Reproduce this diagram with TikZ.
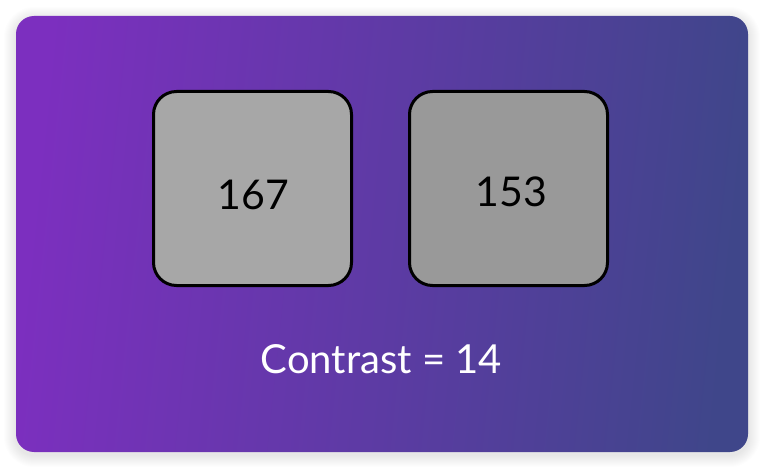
\documentclass[tikz,border=0pt]{standalone}
\usepackage{fontspec}
\setmainfont{Lato}
\definecolor{gradL}{HTML}{7C2FBF}
\definecolor{gradR}{HTML}{3F468A}
\definecolor{boxA}{HTML}{A7A7A7}
\definecolor{boxB}{HTML}{999999}
\tikzset{
  valbox/.style={draw=black, line width=3pt, rounded corners=23pt,
    minimum width=198pt, minimum height=194pt, inner sep=0pt},
  valtext/.style={font=\fontsize{41}{48}\selectfont, text=black, anchor=base, inner sep=0pt},
  captext/.style={font=\fontsize{40}{48}\selectfont, text=white, anchor=base, inner sep=0pt}
}
\begin{document}
\begin{tikzpicture}[x=1pt,y=-1pt]
\useasboundingbox (0,0) rectangle (772,476);
\fill[white] (0,0) rectangle (772,476);
\foreach \i in {1,...,12} {
  \fill[black, opacity=0.008, rounded corners={18pt+\i pt}]
    (16-\i,16-\i+3) rectangle (748+\i,452+\i+3);
}
\shade[rounded corners=18pt, left color=gradL, right color=gradR, shading angle=84]
  (16,16) rectangle (748,452);
\node[valbox, fill=boxA] (boxa) at (252.5,188.5) {};
\node[valbox, fill=boxB] (boxb) at (508.5,188.5) {};
\node[valtext] (va) at (253.5,210) {167};
\node[valtext] (vb) at (511.5,207) {153};
\node[captext] (cap) at (381.5,373) {Contrast = 14};
\end{tikzpicture}
\end{document}
